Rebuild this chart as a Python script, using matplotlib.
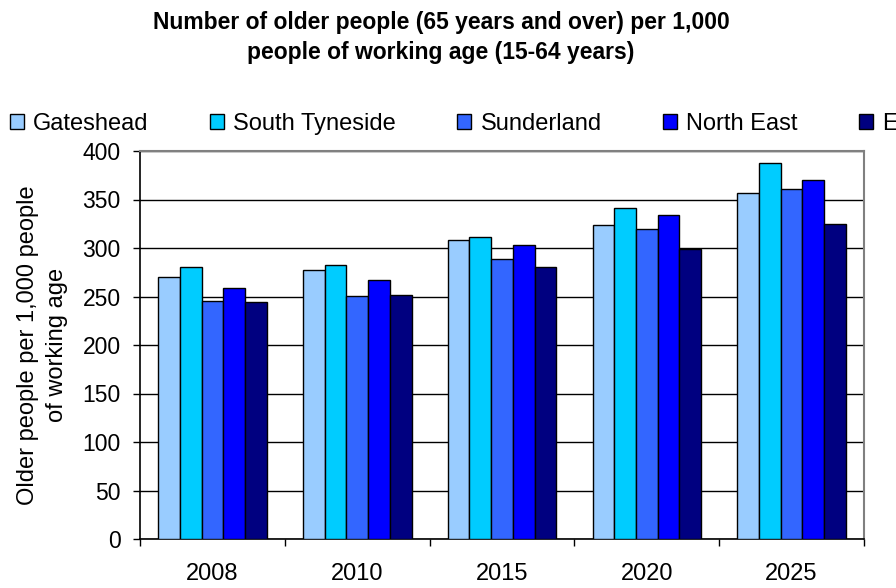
import numpy as np
import matplotlib
matplotlib.use("Agg")
import matplotlib.pyplot as plt

plt.rcParams['font.family'] = ['Liberation Sans', 'DejaVu Sans']

years = ['2008', '2010', '2015', '2020', '2025']
areas = ['Gateshead', 'South Tyneside', 'Sunderland', 'North East', 'England']
colours = ['#99CCFF', '#00CCFF', '#3366FF', '#0000FF', '#000080']

gateshead = [270, 277, 308, 324, 357]
south_tyneside = [280, 282, 311, 341, 388]
sunderland = [245, 251, 289, 320, 361]
north_east = [259, 267, 303, 334, 370]
england = [244, 252, 280, 299, 325]
series = [gateshead, south_tyneside, sunderland, north_east, england]

fig = plt.figure(figsize=(8.96, 5.88), dpi=100)
ax = fig.add_axes([140/896, 1-539/588, 724/896, 388/588])

x = np.arange(len(years))
w = 0.15
for i, (vals, name, col) in enumerate(zip(series, areas, colours)):
    ax.bar(x + (i - 2) * w, vals, w, color=col, edgecolor='black',
           linewidth=1.0, label=name, zorder=3)

ax.set_xlim(-0.5, 4.5)
ax.set_ylim(0, 400)
ax.set_yticks(np.arange(0, 401, 50))
ax.yaxis.grid(True, color='black', linewidth=1.0, zorder=0)
ax.tick_params(axis='y', direction='out', length=5, width=1, pad=9, labelsize=16.5)

# category boundaries get the tick marks, labels sit in the middle
ax.set_xticks(np.arange(-0.5, 4.6, 1))
ax.set_xticklabels([])
ax.tick_params(axis='x', which='major', direction='out', length=5, width=1)
ax.set_xticks(x, minor=True)
ax.set_xticklabels(years, minor=True)
ax.tick_params(axis='x', which='minor', length=0, pad=17, labelsize=17)

for s in ['top', 'right']:
    ax.spines[s].set_color('#808080')
    ax.spines[s].set_linewidth(1.5)
for s in ['left', 'bottom']:
    ax.spines[s].set_color('black')
    ax.spines[s].set_linewidth(1.2)

ax.set_ylabel('Older people per 1,000 people\nof working age', fontsize=17,
              labelpad=10, linespacing=1.45)

fig.text(441/896, 1-22/588, 'Number of older people (65 years and over) per 1,000',
         ha='center', va='center', fontsize=16.5, fontweight='bold')
fig.text(441/896, 1-53/588, 'people of working age (15-64 years)',
         ha='center', va='center', fontsize=16.5, fontweight='bold')

handles, labels = ax.get_legend_handles_labels()
fig.legend(handles, labels, ncol=5, loc='center left',
           bbox_to_anchor=(10/896, 1-124/588), frameon=False, fontsize=17,
           handlelength=0.6, handleheight=0.6, handletextpad=0.38,
           columnspacing=2.6, borderpad=0, borderaxespad=0)

fig.savefig('out.png', dpi=100)
